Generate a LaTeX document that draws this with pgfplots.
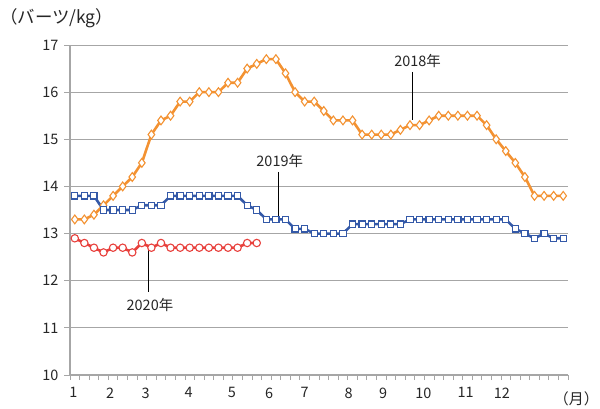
\documentclass[border=0pt]{standalone}
\usepackage{fontspec}
\setmainfont{Noto Sans CJK JP}
\usepackage{pgfplots}
\pgfplotsset{compat=1.18}

\definecolor{c18}{HTML}{F39232}
\definecolor{c19}{HTML}{3459A8}
\definecolor{c20}{HTML}{E8403C}
\definecolor{gridc}{HTML}{A6A6A6}

\begin{document}
\begin{tikzpicture}[x=1bp,y=1bp]
\path[use as bounding box] (0,0) rectangle (600,408);
\begin{axis}[
  at={(70bp,33bp)}, anchor=south west,
  scale only axis, width=498bp, height=330bp,
  xmin=-0.5, xmax=51.5, ymin=10, ymax=17,
  axis x line*=bottom, axis y line*=left,
  axis line style={gridc, line width=2pt},
  ytick={10,...,17},
  ymajorgrids, grid style={gridc, line width=1pt},
  xtick={-0.15,3.7,7.4,11.9,16.4,20.3,24.0,28.6,32.2,36.4,40.8,44.6},
  xticklabels={1,2,3,4,5,6,7,8,9,10,11,12},
  minor xtick={-0.5,0.5,...,51.5},
  major x tick style={draw=none},
  minor x tick style={gridc, line width=0.8pt},
  minor tick length=5bp,
  major y tick style={gridc, line width=1pt},
  major tick length=6bp,
  tick align=outside,
  /pgf/number format/assume math mode=true,
  tick label style={font=\fontsize{14.5}{16}\selectfont, text=black!85},
  xticklabel style={yshift=-3bp},
  yticklabel style={xshift=-2bp},
  clip=false,
]
\addplot[c18, line width=2.6pt, mark=diamond*, mark size=4.4bp,
  mark options={fill=white, line width=1.1pt}] coordinates {
(0,13.3)(1,13.3)(2,13.4)(3,13.6)(4,13.8)(5,14.0)(6,14.2)(7,14.5)(8,15.1)(9,15.4)
(10,15.5)(11,15.8)(12,15.8)(13,16.0)(14,16.0)(15,16.0)(16,16.2)(17,16.2)(18,16.5)(19,16.6)
(20,16.7)(21,16.7)(22,16.4)(23,16.0)(24,15.8)(25,15.8)(26,15.6)(27,15.4)(28,15.4)(29,15.4)
(30,15.1)(31,15.1)(32,15.1)(33,15.1)(34,15.2)(35,15.3)(36,15.3)(37,15.4)(38,15.5)(39,15.5)
(40,15.5)(41,15.5)(42,15.5)(43,15.3)(44,15.0)(45,14.75)(46,14.5)(47,14.2)(48,13.8)(49,13.8)
(50,13.8)(51,13.8)};
\addplot[c19, line width=2.6pt, mark=square*, mark size=3.1bp,
  mark options={fill=white, line width=1.1pt}] coordinates {
(0,13.8)(1,13.8)(2,13.8)(3,13.5)(4,13.5)(5,13.5)(6,13.5)(7,13.6)(8,13.6)(9,13.6)
(10,13.8)(11,13.8)(12,13.8)(13,13.8)(14,13.8)(15,13.8)(16,13.8)(17,13.8)(18,13.6)(19,13.5)
(20,13.3)(21,13.3)(22,13.3)(23,13.1)(24,13.1)(25,13.0)(26,13.0)(27,13.0)(28,13.0)(29,13.2)
(30,13.2)(31,13.2)(32,13.2)(33,13.2)(34,13.2)(35,13.3)(36,13.3)(37,13.3)(38,13.3)(39,13.3)
(40,13.3)(41,13.3)(42,13.3)(43,13.3)(44,13.3)(45,13.3)(46,13.1)(47,13.0)(48,12.9)(49,13.0)
(50,12.9)(51,12.9)};
\addplot[c20, line width=2.6pt, mark=*, mark size=3.7bp,
  mark options={fill=white, line width=1.1pt}] coordinates {
(0,12.9)(1,12.8)(2,12.7)(3,12.6)(4,12.7)(5,12.7)(6,12.6)(7,12.8)(8,12.7)(9,12.8)
(10,12.7)(11,12.7)(12,12.7)(13,12.7)(14,12.7)(15,12.7)(16,12.7)(17,12.7)(18,12.8)(19,12.8)};
% annotations
\draw[black, line width=0.8pt] (axis cs:35.3,16.43) -- (axis cs:35.3,15.4);
\node[font=\fontsize{14.5}{16}\selectfont, text=black!85] at (axis cs:35.8,16.66) {2018年};
\draw[black, line width=0.8pt] (axis cs:21.3,14.31) -- (axis cs:21.3,13.38);
\node[font=\fontsize{14.5}{16}\selectfont, text=black!85] at (axis cs:21.4,14.54) {2019年};
\draw[black, line width=0.8pt] (axis cs:7.65,12.72) -- (axis cs:7.65,11.76);
\node[font=\fontsize{14.5}{16}\selectfont, text=black!85] at (axis cs:7.85,11.48) {2020年};
\end{axis}
\node[anchor=west, font=\fontsize{17.5}{19}\selectfont, text=black!85, inner sep=0pt] at (0,390) {（バーツ/kg）};
\node[anchor=east, font=\fontsize{15}{17}\selectfont, text=black!85, inner sep=0pt] at (599,9) {（月）};
\end{tikzpicture}
\end{document}
